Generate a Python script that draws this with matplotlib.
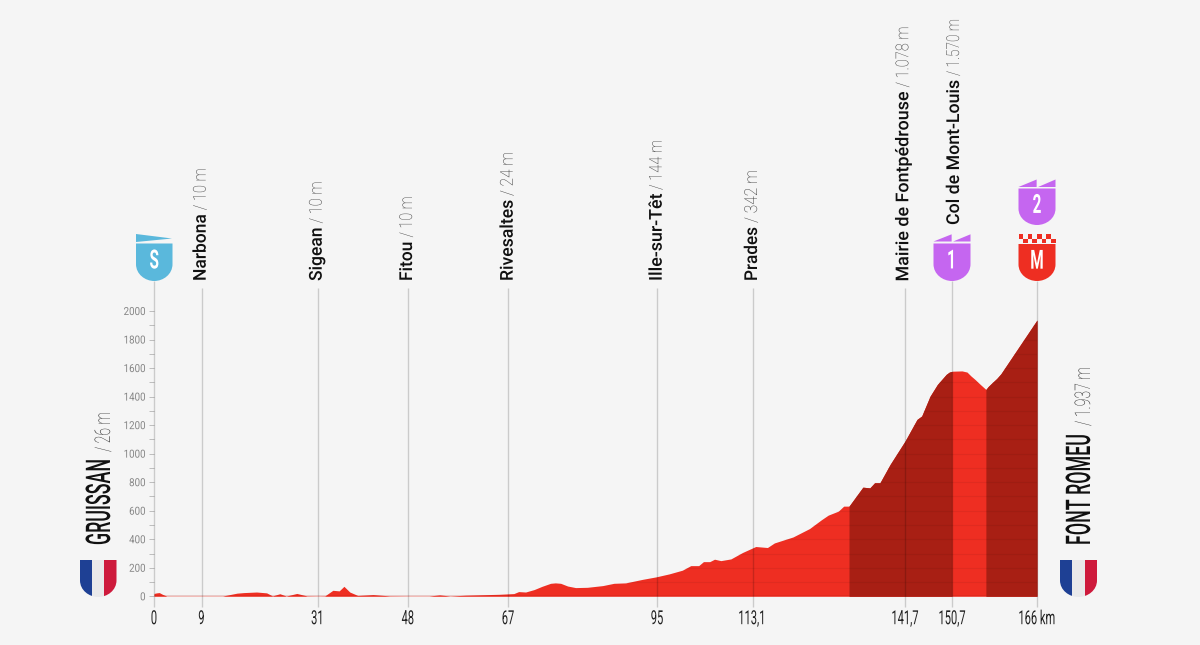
import numpy as np
import matplotlib
matplotlib.use("Agg")
import matplotlib.pyplot as plt
from matplotlib.path import Path
from matplotlib.patches import PathPatch, Polygon, Rectangle
from matplotlib.patheffects import AbstractPathEffect
from matplotlib.transforms import Affine2D

# ---------- data ----------
km = [0, 0.5, 1, 1.6, 2.4, 9, 13, 15.7, 17, 19.4, 21.3, 22.4, 23.8, 25, 27, 28.9, 31, 32.3,
      33.8, 35, 35.9, 37, 38.5, 41.4, 44.5, 48, 52, 54, 56, 59, 65.3, 68.1, 69, 70.3, 71.9,
      73.4, 75, 75.9, 76.9, 78.2, 79.7, 81.9, 84.8, 86.9, 89.1, 92.3, 94.8, 97.3, 99.8, 101.4,
      102.9, 103.8, 105, 105.9, 107.1, 109, 111.2, 113.7, 115.9, 117.2, 120.7, 123.8, 126,
      127.3, 129.2, 130.2, 131.2, 133.8, 135.1, 136, 137, 138.9, 141.7, 144, 144.9, 146.5,
      147.9, 149.6, 150.2, 150.8, 152.5, 153.4, 154.1, 154.85, 155.8, 156.8, 157.2, 158,
      158.75, 159.5, 166]
elev = [20, 24, 26, 14, 2, 2, 2, 22, 26, 30, 24, 3, 18, 2, 20, 3, 2, 3,
        42, 38, 70, 30, 6, 12, 3, 2, 2, 10, 2, 8, 14, 19, 33, 30, 47,
        70, 91, 94, 91, 72, 61, 63, 75, 91, 94, 119, 136, 157, 183, 215,
        215, 243, 243, 260, 250, 262, 307, 349, 342, 374, 416, 475, 536,
        569, 597, 632, 632, 765, 760, 796, 796, 924, 1088, 1240, 1264, 1403,
        1485, 1556, 1572, 1578, 1580, 1572, 1545, 1520, 1485, 1450, 1470, 1500,
        1527, 1560, 1937]

climb_ranges = [(131.2, 150.7), (156.8, 166)]

tick_km = [0, 9, 31, 48, 67, 95, 113.1, 141.7, 150.7, 166]
tick_labels = ["0", "9", "31", "48", "67", "95", "113,1", "141,7", "150,7", "166 km"]
y_major = list(range(0, 2001, 200))
y_minor = list(range(100, 2000, 200))

waypoint_names = ["Narbona", "Sigean", "Fitou", "Rivesaltes", "Ille-sur-Têt", "Prades",
                  "Mairie de Fontpédrouse", "Col de Mont-Louis"]
waypoint_alts = ["10 m", "10 m", "10 m", "24 m", "144 m", "342 m", "1.078 m", "1.570 m"]
waypoint_km = [9, 31, 48, 67, 95, 113.1, 141.7, 150.7]

start_name, start_alt = "GRUISSAN", "26 m"
finish_name, finish_alt = "FONT ROMEU", "1.937 m"

# ---------- colours / layout ----------
W, H = 1200, 645
BG = "#f5f5f5"
RED = "#ee2e22"
DARK = "#a81f14"
BLUE = "#5ab8dc"
PURPLE = "#c566f0"
SANS = ["Roboto", "DejaVu Sans"]

tick_px = [154, 201.5, 318, 408, 508, 657, 752.5, 905, 952, 1037]
# baseline x, bottom y, pixel length of name, pixel length of altitude
waypoint_layout = {
    9: (205.7, 281, 66.7, 42), 31: (321.7, 281, 53.5, 42), 48: (412, 281, 39.5, 41),
    67: (512.7, 281, 81, 44), 95: (661.7, 281, 87, 50), 113.1: (757, 281, 54, 53),
    141.7: (908.3, 281.5, 190, 61), 150.7: (959, 225, 145, 57),
}


class Squeeze(AbstractPathEffect):
    """Draw a real Text narrower along its own direction."""

    def __init__(self, sx, anchor="left"):
        super().__init__()
        self.sx, self.anchor = sx, anchor

    def draw_path(self, renderer, gc, tpath, affine, rgbFace=None):
        e = tpath.get_extents()
        c = {"left": 0.0, "center": (e.x0 + e.x1) / 2, "right": e.x1}[self.anchor]
        m = Affine2D().translate(-c, 0).scale(self.sx, 1).translate(c, 0) + affine
        renderer.draw_path(gc, tpath, m, rgbFace)


fig = plt.figure(figsize=(W / 100, H / 100), dpi=100, facecolor=BG)
y0, y2000 = 596.3, 311.0
ax = fig.add_axes([154 / W, 1 - y0 / H, (1037 - 154) / W, (y0 - y2000) / H])
ax.set_facecolor("none")


def fwd(v):
    v = np.asarray(v, float)
    return np.where(v < 0, 154 + v * 5.3, np.where(v > 166, 1037 + (v - 166) * 5.5,
                    np.interp(v, tick_km, tick_px)))


def inv(p):
    p = np.asarray(p, float)
    return np.where(p < 154, (p - 154) / 5.3, np.where(p > 1037, 166 + (p - 1037) / 5.5,
                    np.interp(p, tick_px, tick_km)))


ax.set_xscale("function", functions=(fwd, inv))
ax.set_xlim(0, 166)
ax.set_ylim(0, 2000)
for s in ax.spines.values():
    s.set_visible(False)

# profile
x_arr, y_arr = np.array(km, float), np.array(elev, float)
poly = ax.fill_between(x_arr, 0, y_arr, color=RED, lw=0, zorder=2)
fill_path = poly.get_paths()[0]
for a, b in climb_ranges:
    xs = np.r_[a, x_arr[(x_arr > a) & (x_arr < b)], b]
    ax.fill_between(xs, 0, np.interp(xs, x_arr, y_arr), color=DARK, lw=0, zorder=3)

# faint horizontal lines inside the profile
for m in range(100, 2000, 100):
    ln = ax.axhline(m, color="black", alpha=0.06, lw=0.8, zorder=4)
    ln.set_clip_path(fill_path, poly.get_transform())
ax.axhline(0, color="#b01a12", lw=1.0, zorder=5)

# vertical lines (extend above and below the axes)
trans = ax.get_xaxis_transform()
tops = {0: 281, 150.7: 281, 166: 281}
for k in tick_km:
    top_px = tops.get(k, 288)
    ax.plot([k, k], [(y0 - 607) / (y0 - y2000), (y0 - top_px) / (y0 - y2000)], transform=trans,
            color="black", alpha=0.17, lw=1.0, clip_on=False, zorder=6, solid_capstyle="butt")

# axes ticks
ax.set_yticks(y_major)
ax.set_yticklabels([str(v) for v in y_major], fontfamily=SANS, fontsize=8, color="#868686")
ax.set_yticks(y_minor, minor=True)
ax.tick_params(axis="y", which="both", length=3.6, width=0.7, color="#bdbdbd", pad=2.4)
for t in ax.get_yticklabels():
    t.set_path_effects([Squeeze(0.88, "right")])
ax.set_xticks(tick_km)
ax.set_xticklabels(tick_labels, fontfamily=SANS, fontsize=14, color="#222222")
ax.tick_params(axis="x", which="both", length=0, pad=10)
for t in ax.get_xticklabels():
    t.set_path_effects([Squeeze(0.57, "center")])

# overlay in pixel coordinates for labels and badges
ov = fig.add_axes([0, 0, 1, 1], facecolor="none", zorder=10)
ov.set_xlim(0, W)
ov.set_ylim(H, 0)
ov.axis("off")


def shield(x0, x1, top, bot):
    w = x1 - x0
    knee = bot - (bot - top) * 0.45
    verts = [(x0, top), (x1, top), (x1, knee), (x1, knee + (bot - knee) * 0.6),
             (x1 - w * 0.25, bot), (x0 + w / 2, bot), (x0 + w * 0.25, bot),
             (x0, knee + (bot - knee) * 0.6), (x0, knee), (x0, top)]
    codes = [Path.MOVETO, Path.LINETO, Path.LINETO, Path.CURVE4, Path.CURVE4, Path.CURVE4,
             Path.CURVE4, Path.CURVE4, Path.CURVE4, Path.CLOSEPOLY]
    return Path(verts, codes)


def badge(x0, x1, top, bot, color, letter):
    ov.add_patch(PathPatch(shield(x0, x1, top, bot), fc=color, ec="none", zorder=5))
    t = ov.text((x0 + x1) / 2, (top + bot) / 2 - 0.8, letter, color="white", ha="center",
                va="center", fontsize=19, fontweight="bold", fontfamily=SANS, zorder=6)
    t.set_path_effects([Squeeze(0.58, "center")])


def mountain_flag(x0, x1, top, base, color):
    w = x1 - x0
    ov.add_patch(Polygon([(x0, base), (x0 + w * 0.49, top), (x0 + w * 0.49, base)], fc=color, ec="none"))
    ov.add_patch(Polygon([(x0 + w * 0.53, base), (x1, top), (x1, base)], fc=color, ec="none"))


def french_flag(x0, x1, top, bot):
    w = (x1 - x0) / 3
    clip = PathPatch(shield(x0, x1, top, bot), fc="none", ec="none", transform=ov.transData)
    ov.add_patch(clip)
    for i, c in enumerate(["#1e4094", "#e9e9ea", "#ce1a3c"]):
        r = Rectangle((x0 + i * w, top), w, bot - top, fc=c, ec="none")
        ov.add_patch(r)
        r.set_clip_path(clip)


badge(136, 172.5, 243.5, 281, BLUE, "S")
ov.add_patch(Polygon([(136, 234), (172, 238.5), (136, 242)], fc=BLUE, ec="none"))
badge(933.5, 970.5, 243.5, 281, PURPLE, "1")
mountain_flag(933.5, 970.5, 234.3, 241.5, PURPLE)
badge(1018.5, 1055.5, 188.5, 225, PURPLE, "2")
mountain_flag(1018.5, 1055.5, 179.5, 187, PURPLE)
badge(1018.5, 1055.5, 244, 281, RED, "M")
cell = 37 / 8
for row in range(2):
    for c in range(8):
        if (row + c) % 2 == 0:
            ov.add_patch(Rectangle((1018.5 + c * cell, 234.3 + row * 4.2), cell, 4.2, fc=RED, ec="none"))

french_flag(80, 116.5, 560, 597)
french_flag(1060, 1097, 560, 597)

renderer = fig.canvas.get_renderer()


def fitted(x, y, s, length, ha="left", **font):
    t = ov.text(x, y, s, rotation=90, rotation_mode="anchor", ha=ha, va="baseline", **font)
    natural = t.get_window_extent(renderer).height
    t.set_path_effects([Squeeze(length / natural, ha)])
    return t


name_font = dict(fontfamily=SANS, fontsize=12.8, fontweight="medium", color="#111111")
alt_font = dict(fontfamily=SANS, fontsize=12.8, fontweight="light", color="#333333")
for name, alt, k in zip(waypoint_names, waypoint_alts, waypoint_km):
    bx, by, l1, l2 = waypoint_layout[k]
    fitted(bx, by, name, l1, **name_font)
    fitted(bx, by - l1 - 4, "/ " + alt, l2, **alt_font)

side_name = dict(fontfamily=SANS, fontsize=24.5, fontweight="medium", color="#111111")
side_alt = dict(fontfamily=SANS, fontsize=15.5, fontweight="light", color="#222222")
# names are anchored at their upper end, so the text box stays clear of the altitude
fitted(110, 458, start_name, 86, ha="right", **side_name)
fitted(110, 452, "/ " + start_alt, 40, **side_alt)
fitted(1090, 433, finish_name, 111, ha="right", **side_name)
fitted(1090, 426, "/ " + finish_alt, 59, **side_alt)

fig.savefig("out.png", dpi=100, facecolor=BG)
